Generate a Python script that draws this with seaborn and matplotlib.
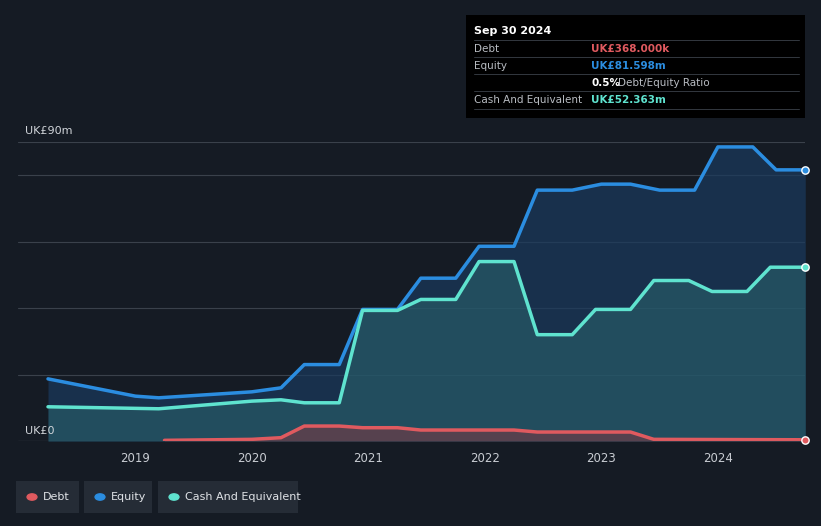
import numpy as np
import pandas as pd
import matplotlib.pyplot as plt
import seaborn as sns

# values in UK£m
eq_t = [2018.25, 2019.0, 2019.2, 2020.0, 2020.25, 2020.45, 2020.75, 2020.95, 2021.25, 2021.45, 2021.75,
        2021.95, 2022.25, 2022.45, 2022.75, 2023.0, 2023.25, 2023.5, 2023.8, 2024.0, 2024.3, 2024.5, 2024.75]
equity = [18.7, 13.5, 13.0, 14.8, 16.0, 23.0, 23.0, 39.6, 39.6, 49.0, 49.0,
          58.6, 58.6, 75.5, 75.5, 77.3, 77.3, 75.5, 75.5, 88.5, 88.5, 81.6, 81.6]
cash_t = [2018.25, 2019.2, 2020.0, 2020.25, 2020.45, 2020.75, 2020.95, 2021.25, 2021.45, 2021.75, 2021.95,
          2022.25, 2022.45, 2022.75, 2022.95, 2023.25, 2023.45, 2023.75, 2023.95, 2024.25, 2024.45, 2024.75]
cash = [10.3, 9.7, 12.0, 12.4, 11.5, 11.5, 39.3, 39.3, 42.6, 42.6, 54.0,
        54.0, 32.0, 32.0, 39.6, 39.6, 48.3, 48.3, 45.0, 45.0, 52.3, 52.3]
debt_t = [2019.25, 2020.0, 2020.25, 2020.45, 2020.75, 2020.95, 2021.25, 2021.45, 2022.25, 2022.45,
          2023.25, 2023.45, 2024.75]
debt = [0.2, 0.5, 1.0, 4.5, 4.5, 4.0, 4.0, 3.3, 3.3, 2.7, 2.7, 0.5, 0.37]
years = [2019, 2020, 2021, 2022, 2023, 2024]

BG = '#151b24'
C_EQ, C_CASH, C_DEBT = '#2b8de0', '#5fe3cf', '#e05a5f'

sns.set_theme(style='dark')
fig = plt.figure(figsize=(8.21, 5.26), dpi=100, facecolor=BG)
ax = fig.add_axes([18/821, 85/526, (805-18)/821, (441-143)/526 + 0.002])
ax.set_facecolor(BG)

ax.fill_between(eq_t, equity, color='#1a3a5e', alpha=0.7, lw=0)
ax.fill_between(cash_t, cash, color='#2c6a70', alpha=0.5, lw=0)
ax.fill_between(debt_t, debt, color='#7a3a44', alpha=0.6, lw=0)

for t, v, c in [(eq_t, equity, C_EQ), (cash_t, cash, C_CASH), (debt_t, debt, C_DEBT)]:
    sns.lineplot(x=t, y=v, color=c, lw=2.5, ax=ax, solid_joinstyle='round', solid_capstyle='round')
    ax.scatter([t[-1]], [v[-1]], s=28, color=c, edgecolor='white', lw=1, zorder=5, clip_on=False)

ax.set_xlim(2018.25 - (48 - 18) / 116.5, 2018.25 + (805 - 48) / 116.5)
ax.set_ylim(0, 90)
ax.set_yticks([0, 20, 40, 60, 80, 90])
ax.set_yticklabels([])
ax.grid(axis='y', color='#3a414b', lw=0.8)
ax.grid(axis='x', visible=False)
ax.set_xticks(years)
ax.set_xticklabels([str(y) for y in years], color='#c8ccd2', fontsize=8.5)
ax.tick_params(axis='x', length=0, pad=8)
ax.tick_params(axis='y', length=0)
for s in ax.spines.values():
    s.set_visible(False)
ax.axhline(0, color='#5a6068', lw=0.8)

fig.text(25/821, 1 - 131/526, 'UK£90m', color='#d0d4d9', fontsize=8, va='center')
fig.text(25/821, 1 - 431/526, 'UK£0', color='#d0d4d9', fontsize=8, va='center')

# tooltip box
fig.patches.append(plt.Rectangle((466/821, 1 - 118/526), 339/821, 103/526, transform=fig.transFigure,
                                 facecolor='black', edgecolor='none'))
fig.text(474/821, 1 - 31/526, 'Sep 30 2024', color='white', fontsize=8, va='center', weight='bold')
rows = [(49, 'Debt', 'UK£368.000k', C_DEBT), (66, 'Equity', 'UK£81.598m', C_EQ),
        (83, '', '', None), (100, 'Cash And Equivalent', 'UK£52.363m', C_CASH)]
for y, lab, val, c in rows:
    fig.text(474/821, 1 - y/526, lab, color='#b8bcc2', fontsize=7.5, va='center')
    if c:
        fig.text(591/821, 1 - y/526, val, color=c, fontsize=7.5, va='center', weight='bold')
fig.text(591/821, 1 - 83/526, '0.5%', color='white', fontsize=7.5, va='center', weight='bold')
fig.text(618/821, 1 - 83/526, 'Debt/Equity Ratio', color='#b8bcc2', fontsize=7.5, va='center')
for y in [40, 57, 74, 91, 109]:
    fig.lines.append(plt.Line2D([474/821, 799/821], [1 - y/526] * 2, transform=fig.transFigure,
                                color='#33383f', lw=0.7))

# legend buttons
for x0, w, lab, c in [(16, 63, 'Debt', C_DEBT), (84, 68, 'Equity', C_EQ), (158, 140, 'Cash And Equivalent', C_CASH)]:
    fig.patches.append(plt.Rectangle((x0/821, 1 - 513/526), w/821, 32/526, transform=fig.transFigure,
                                     facecolor='#252c36', edgecolor='none'))
    fig.patches.append(plt.Circle(((x0 + 16)/821, 1 - 497/526), 0.006, transform=fig.transFigure, color=c))
    fig.text((x0 + 27)/821, 1 - 497/526, lab, color='#e0e3e7', fontsize=8, va='center')

fig.savefig('out.png', dpi=100, facecolor=BG)
